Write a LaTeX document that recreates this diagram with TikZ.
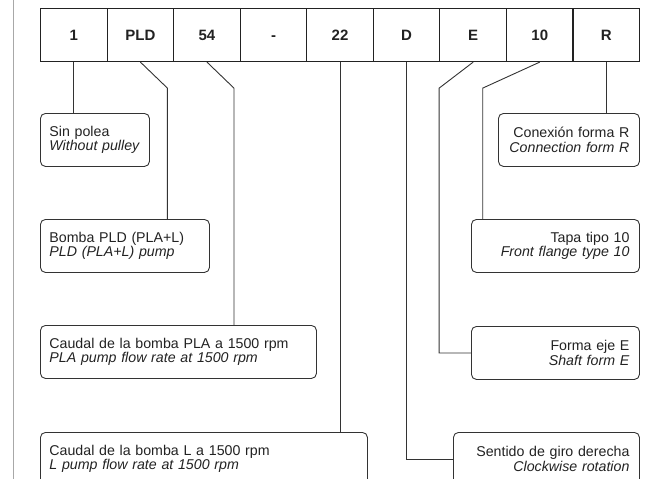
\documentclass[tikz,border=0pt]{standalone}
\usepackage{fontspec}
\setmainfont{Liberation Sans}
\usetikzlibrary{calc}
\definecolor{ink}{HTML}{222222}
\definecolor{edge}{HTML}{333333}
\definecolor{rule}{HTML}{A8A8A8}
\begin{document}
\begin{tikzpicture}[x=1pt,y=-1pt,
  cell/.style={draw=ink, line width=1.1pt, minimum width=66.56pt, minimum height=53pt,
    anchor=north west, inner sep=0pt, text height=10.8pt, text depth=0pt,
    font=\fontsize{15}{18}\selectfont\bfseries, text=ink},
  lbox/.style={draw=edge, line width=0.9pt, rounded corners=5pt, anchor=north west,
    minimum height=53pt, inner xsep=9pt, inner ysep=0pt, align=left, text=ink,
    font=\fontsize{14.2}{14.5}\selectfont},
  rbox/.style={draw=edge, line width=0.9pt, rounded corners=5pt, anchor=north west,
    minimum height=53pt, inner xsep=10pt, inner ysep=0pt, align=right, text=ink,
    font=\fontsize{14.2}{14.5}\selectfont},
  conn/.style={draw=edge, line width=0.9pt}
]
\useasboundingbox (0,0) rectangle (646,479);
\clip (0,0) rectangle (646,479);
\draw[rule, line width=1.7pt] (13.5,-2) coordinate (ra) -- (13.5,481) coordinate (rb);

\foreach \t [count=\i from 0] in {1,PLD,54,-,22,D,E,10,R}{
  \node[cell] (c\i) at ({40+66.56*\i},8) {\t};
}

\node[lbox, text width=91pt] (sin) at (40,113) {Sin polea\\\textit{Without pulley}};
\node[lbox, text width=151pt] (bom) at (40,219) {Bomba PLD (PLA+L)\\\textit{PLD (PLA+L) pump}};
\node[lbox, text width=258pt] (pla) at (40,325) {Caudal de la bomba PLA a 1500 rpm\\\textit{PLA pump flow rate at 1500 rpm}};
\node[lbox, text width=309pt] (lb) at (40,432) {Caudal de la bomba L a 1500 rpm\\\textit{L pump flow rate at 1500 rpm}};

\node[rbox, text width=121pt] (con) at (498,113) {Conexión forma R\\\textit{Connection form R}};
\node[rbox, text width=148pt] (tap) at (471,219) {Tapa tipo 10\\\textit{Front flange type 10}};
\node[rbox, text width=148pt] (for) at (471,326) {Forma eje E\\\textit{Shaft form E}};
\node[rbox, text width=166pt] (sen) at (453,432) {Sentido de giro derecha\\\textit{Clockwise rotation}};

\draw[conn] (c0.south) -- (c0.south |- sin.north);
\draw[conn] (c1.south) -- ++(27,26) coordinate (k1) -- (k1 |- bom.north);
\draw[conn] (c2.south) -- ++(27,26) coordinate (k2) -- (k2 |- pla.north);
\draw[conn] (c4.south) -- (c4.south |- lb.north);
\draw[conn] (c5.south) |- (sen.west);
\draw[conn] (c6.south) -- ++(-34,26) coordinate (k6) |- (for.west);
\draw[conn] (c7.south) -- ++(-57,26) coordinate (k7) -- (k7 |- tap.north);
\draw[conn] (c8.south) -- (c8.south |- con.north);
\end{tikzpicture}
\end{document}
